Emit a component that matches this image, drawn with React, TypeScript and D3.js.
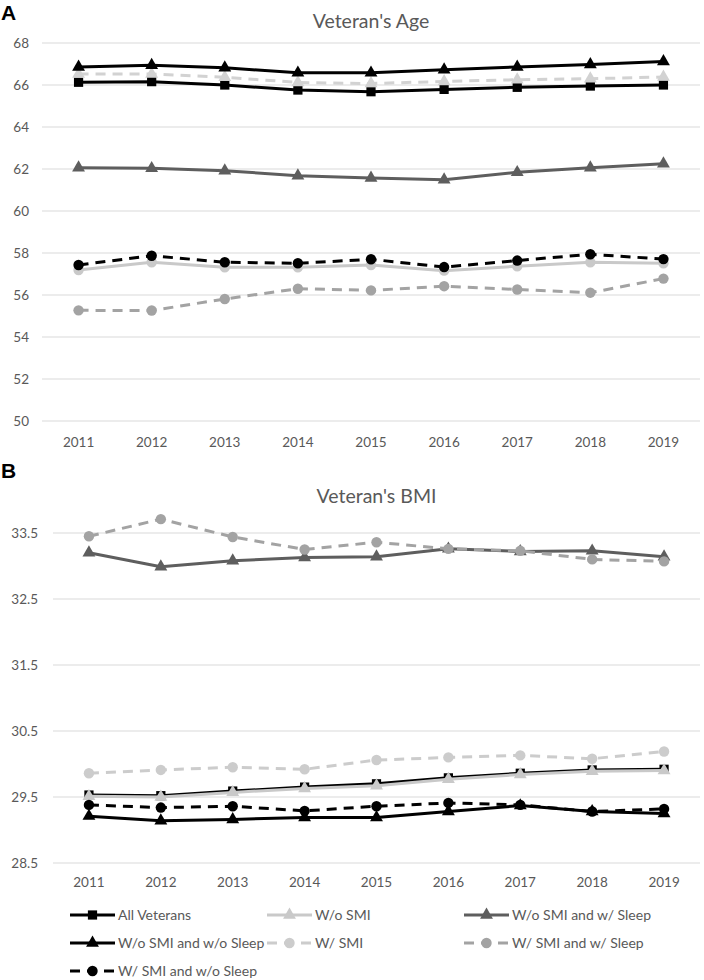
import React from 'react';
import * as d3 from 'd3';

const years = ['2011', '2012', '2013', '2014', '2015', '2016', '2017', '2018', '2019'];

// Panel A – Veteran's Age
const ageAllVeterans = [66.13, 66.16, 66.0, 65.76, 65.68, 65.79, 65.89, 65.95, 66.0];
const ageWoSmi = [66.52, 66.52, 66.37, 66.12, 66.07, 66.17, 66.25, 66.3, 66.38];
const ageWoSmiWSleep = [62.06, 62.03, 61.92, 61.68, 61.57, 61.49, 61.84, 62.06, 62.25];
const ageWoSmiWoSleep = [66.86, 66.94, 66.82, 66.58, 66.58, 66.73, 66.86, 66.98, 67.12];
const ageWSmi = [57.19, 57.56, 57.32, 57.32, 57.43, 57.16, 57.37, 57.56, 57.51];
const ageWSmiWSleep = [55.27, 55.26, 55.81, 56.3, 56.22, 56.42, 56.26, 56.11, 56.78];
const ageWSmiWoSleep = [57.43, 57.87, 57.56, 57.51, 57.7, 57.33, 57.64, 57.94, 57.71];
const ageTicks = [50, 52, 54, 56, 58, 60, 62, 64, 66, 68];

// Panel B – Veteran's BMI
const bmiAllVeterans = [29.53, 29.52, 29.59, 29.65, 29.7, 29.79, 29.86, 29.91, 29.92];
const bmiWoSmi = [29.51, 29.5, 29.57, 29.63, 29.67, 29.77, 29.84, 29.89, 29.9];
const bmiWoSmiWSleep = [33.2, 32.99, 33.08, 33.13, 33.14, 33.26, 33.22, 33.23, 33.14];
const bmiWoSmiWoSleep = [29.21, 29.14, 29.16, 29.19, 29.19, 29.28, 29.37, 29.28, 29.25];
const bmiWSmi = [29.86, 29.91, 29.95, 29.92, 30.06, 30.1, 30.13, 30.08, 30.19];
const bmiWSmiWSleep = [33.45, 33.71, 33.44, 33.25, 33.36, 33.26, 33.23, 33.1, 33.07];
const bmiWSmiWoSleep = [29.38, 29.34, 29.36, 29.29, 29.36, 29.41, 29.38, 29.28, 29.32];
const bmiTicks = [28.5, 29.5, 30.5, 31.5, 32.5, 33.5];

const seriesNames = [
  'All Veterans',
  'W/o SMI',
  'W/o SMI and w/ Sleep',
  'W/o SMI and w/o Sleep',
  'W/ SMI',
  'W/ SMI and w/ Sleep',
  'W/ SMI and w/o Sleep',
];

type Style = { color: string; dash: boolean; symbol: 'square' | 'triangle' | 'circle' };

const legendStyles: Style[] = [
  { color: '#000000', dash: false, symbol: 'square' },
  { color: '#c9c9c9', dash: false, symbol: 'triangle' },
  { color: '#5e5e5e', dash: false, symbol: 'triangle' },
  { color: '#000000', dash: false, symbol: 'triangle' },
  { color: '#cccccc', dash: true, symbol: 'circle' },
  { color: '#a3a3a3', dash: true, symbol: 'circle' },
  { color: '#000000', dash: true, symbol: 'circle' },
];

// Panel A shows the two light-grey series with swapped line styles
const ageStyles: Style[] = legendStyles.map((s, i) =>
  i === 1 ? { ...s, dash: true, color: '#d2d2d2' } : i === 4 ? { ...s, dash: false, color: '#c9c9c9' } : s
);

const FONT = 'Lato, "Open Sans", sans-serif';
const TEXT = '#595959';
const GRID = '#d9d9d9';

function symbolPath(kind: Style['symbol']) {
  if (kind === 'square') return d3.symbol(d3.symbolSquare, 85)()!;
  if (kind === 'triangle') return d3.symbol(d3.symbolTriangle, 72)()!;
  return d3.symbol(d3.symbolCircle, 85)()!;
}

type PanelProps = {
  letter: string;
  title: string;
  letterY: number;
  titleY: number;
  left: number;
  right: number;
  top: number;
  bottom: number;
  domain: [number, number];
  ticks: number[];
  tickFmt: (v: number) => string;
  labelX: number;
  xLabelY: number;
  data: number[][];
  styles: Style[];
};

function Panel(p: PanelProps) {
  const x = d3.scalePoint<string>().domain(years).range([p.left, p.right]).padding(0.5);
  const y = d3.scaleLinear().domain(p.domain).range([p.bottom, p.top]);
  const line = d3
    .line<number>()
    .x((_, i) => x(years[i])!)
    .y((d) => y(d));
  return (
    <g>
      <text x={1} y={p.letterY} fontFamily="Arial, Liberation Sans, sans-serif" fontWeight="bold" fontSize={21} fill="#000">
        {p.letter}
      </text>
      <text x={(p.left + p.right) / 2} y={p.titleY} textAnchor="middle" fontFamily={FONT} fontSize={19.5} fill={TEXT}>
        {p.title}
      </text>
      {p.ticks.map((t) => (
        <g key={t}>
          <line x1={p.left} x2={p.right} y1={y(t)} y2={y(t)} stroke={GRID} strokeWidth={1} />
          <text x={p.labelX} y={y(t)} dy="0.35em" textAnchor="end" fontFamily={FONT} fontSize={13.5} fill={TEXT}>
            {p.tickFmt(t)}
          </text>
        </g>
      ))}
      {years.map((yr) => (
        <text key={yr} x={x(yr)} y={p.xLabelY} textAnchor="middle" fontFamily={FONT} fontSize={13.5} fill={TEXT}>
          {yr}
        </text>
      ))}
      {p.data.map((vals, si) => {
        const st = p.styles[si];
        const sym = symbolPath(st.symbol);
        return (
          <g key={si}>
            <path
              d={line(vals)!}
              fill="none"
              stroke={st.color}
              strokeWidth={3}
              strokeDasharray={st.dash ? '10,7' : undefined}
              strokeLinejoin="round"
            />
            {vals.map((v, i) => (
              <path key={i} d={sym} transform={`translate(${x(years[i])},${y(v)})`} fill={st.color} />
            ))}
          </g>
        );
      })}
    </g>
  );
}

const legendCols = [70, 267, 464];
const legendRows = [915, 943, 971];

export default function App() {
  const ageData = [ageAllVeterans, ageWoSmi, ageWoSmiWSleep, ageWoSmiWoSleep, ageWSmi, ageWSmiWSleep, ageWSmiWoSleep];
  const bmiData = [bmiAllVeterans, bmiWoSmi, bmiWoSmiWSleep, bmiWoSmiWoSleep, bmiWSmi, bmiWSmiWSleep, bmiWSmiWoSleep];
  return (
    <svg width={704} height={980} style={{ position: 'absolute', left: 0, top: 0, background: '#fff' }}>
      <rect width={704} height={980} fill="#fff" />
      <Panel
        letter="A"
        title="Veteran's Age"
        letterY={20}
        titleY={28}
        left={42}
        right={700}
        top={43}
        bottom={421}
        domain={[50, 68]}
        ticks={ageTicks}
        tickFmt={(v) => String(v)}
        labelX={29}
        xLabelY={447}
        data={ageData}
        styles={ageStyles}
      />
      <Panel
        letter="B"
        title="Veteran's BMI"
        letterY={478}
        titleY={503}
        left={53}
        right={700}
        top={533}
        bottom={863}
        domain={[28.5, 33.5]}
        ticks={bmiTicks}
        tickFmt={(v) => v.toFixed(1)}
        labelX={38}
        xLabelY={887}
        data={bmiData}
        styles={legendStyles}
      />
      {seriesNames.map((name, i) => {
        const st = legendStyles[i];
        const cx = legendCols[i % 3];
        const cy = legendRows[Math.floor(i / 3)];
        return (
          <g key={name}>
            <line
              x1={cx}
              x2={cx + 45}
              y1={cy}
              y2={cy}
              stroke={st.color}
              strokeWidth={3}
              strokeDasharray={st.dash ? '10,7' : undefined}
            />
            <path d={symbolPath(st.symbol)} transform={`translate(${cx + 22.5},${cy})`} fill={st.color} />
            <text x={cx + 48} y={cy} dy="0.35em" fontFamily={FONT} fontSize={14} fill={TEXT}>
              {name}
            </text>
          </g>
        );
      })}
    </svg>
  );
}
